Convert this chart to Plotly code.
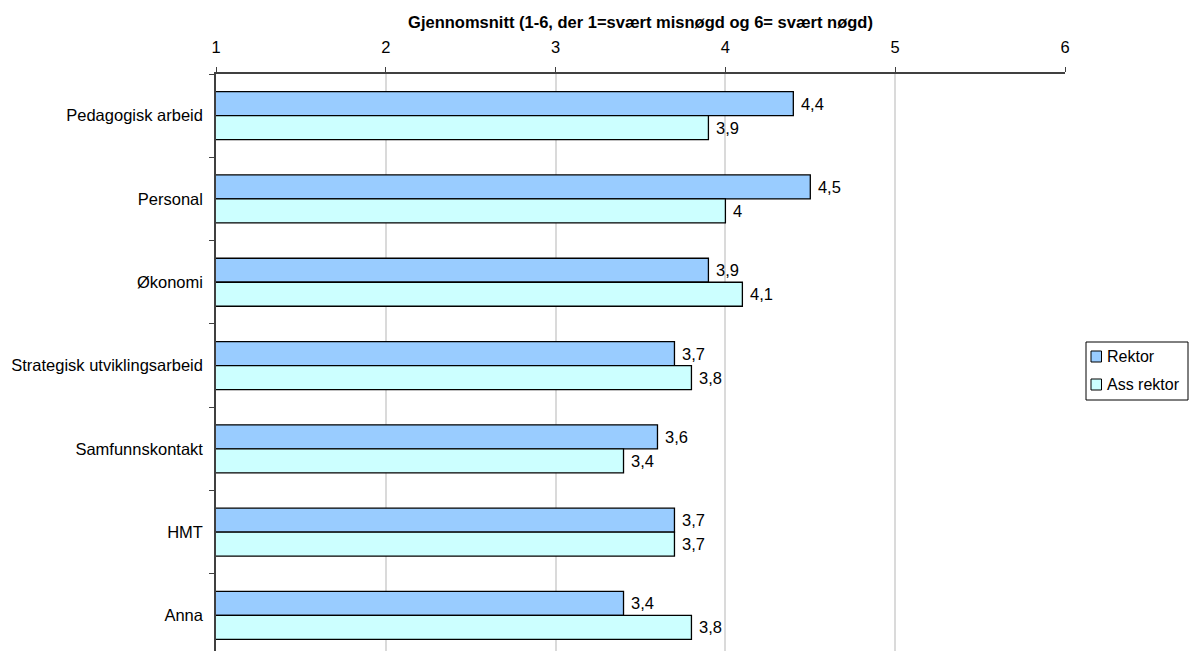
import plotly.graph_objects as go

# Survey averages per task area (scale 1-6)
categories = [
    "Pedagogisk arbeid",
    "Personal",
    "Økonomi",
    "Strategisk utviklingsarbeid",
    "Samfunnskontakt",
    "HMT",
    "Anna",
]
rektor = [4.4, 4.5, 3.9, 3.7, 3.6, 3.7, 3.4]
ass_rektor = [3.9, 4.0, 4.1, 3.8, 3.4, 3.7, 3.8]
x_ticks = [1, 2, 3, 4, 5, 6]
series = [
    ("Rektor", rektor, "#99ccff"),
    ("Ass rektor", ass_rektor, "#ccffff"),
]

FONT = "Liberation Sans, Arial, sans-serif"
FS = 16.5
W, H = 1191, 651
ML, MR, MT, MB = 216, 126, 74, 0


def fmt(v):
    # Norwegian decimal comma, with a small gap after the bar end
    return " " + f"{v:g}".replace(".", ",")


def px(x):
    return (x - ML) / (W - ML - MR)


def py(y):
    return (H - MB - y) / (H - MT - MB)


fig = go.Figure()
for name, vals, color in series:
    fig.add_trace(go.Bar(
        name=name,
        y=categories,
        x=vals,
        orientation="h",
        marker=dict(color=color, line=dict(color="#000000", width=1.3)),
        text=[fmt(v) for v in vals],
        textposition="outside",
        textfont=dict(size=FS, color="#000000", family=FONT),
        cliponaxis=False,
    ))

# Boxed legend on the right-hand side
shapes = [dict(
    type="rect", xref="paper", yref="paper",
    x0=px(1086), x1=px(1188), y0=py(400), y1=py(342),
    line=dict(color="#000000", width=1), fillcolor="#ffffff",
)]
annotations = []
for i, (name, _, color) in enumerate(series):
    yc = 356.5 + 28 * i
    shapes.append(dict(
        type="rect", xref="paper", yref="paper",
        x0=px(1091), x1=px(1101.5), y0=py(yc + 5.5), y1=py(yc - 5.5),
        line=dict(color="#000000", width=1), fillcolor=color,
    ))
    annotations.append(dict(
        text=name, xref="paper", yref="paper",
        x=px(1105), y=py(yc), xanchor="left", yanchor="middle",
        showarrow=False, font=dict(size=16, family=FONT, color="#000000"),
    ))

fig.update_layout(
    width=W,
    height=H,
    margin=dict(l=ML, r=MR, t=MT, b=MB, autoexpand=False),
    paper_bgcolor="#ffffff",
    plot_bgcolor="#ffffff",
    font=dict(family=FONT, size=FS, color="#000000"),
    barmode="group",
    bargap=0.424,
    bargroupgap=0,
    showlegend=False,
    shapes=shapes,
    annotations=annotations,
    xaxis=dict(
        side="top",
        range=[1, 6],
        tickvals=x_ticks,
        ticktext=[str(t) for t in x_ticks],
        showgrid=True,
        gridcolor="#dadada",
        gridwidth=1.5,
        showline=True,
        linecolor="#404040",
        linewidth=1.5,
        ticks="outside",
        ticklen=5,
        tickcolor="#404040",
        tickfont=dict(size=FS),
        ticklabelstandoff=8,
        zeroline=False,
        title=dict(
            text="<b>Gjennomsnitt (1-6, der 1=svært misnøgd og 6= svært nøgd)</b>",
            font=dict(size=FS),
            standoff=5,
        ),
    ),
    yaxis=dict(
        type="category",
        range=[6.427, -0.5],
        tickson="boundaries",
        showgrid=False,
        showline=True,
        linecolor="#404040",
        linewidth=1.5,
        ticks="outside",
        ticklen=5,
        tickcolor="#404040",
        tickfont=dict(size=FS),
        ticklabelstandoff=8,
    ),
)

fig.write_html("out.html")
